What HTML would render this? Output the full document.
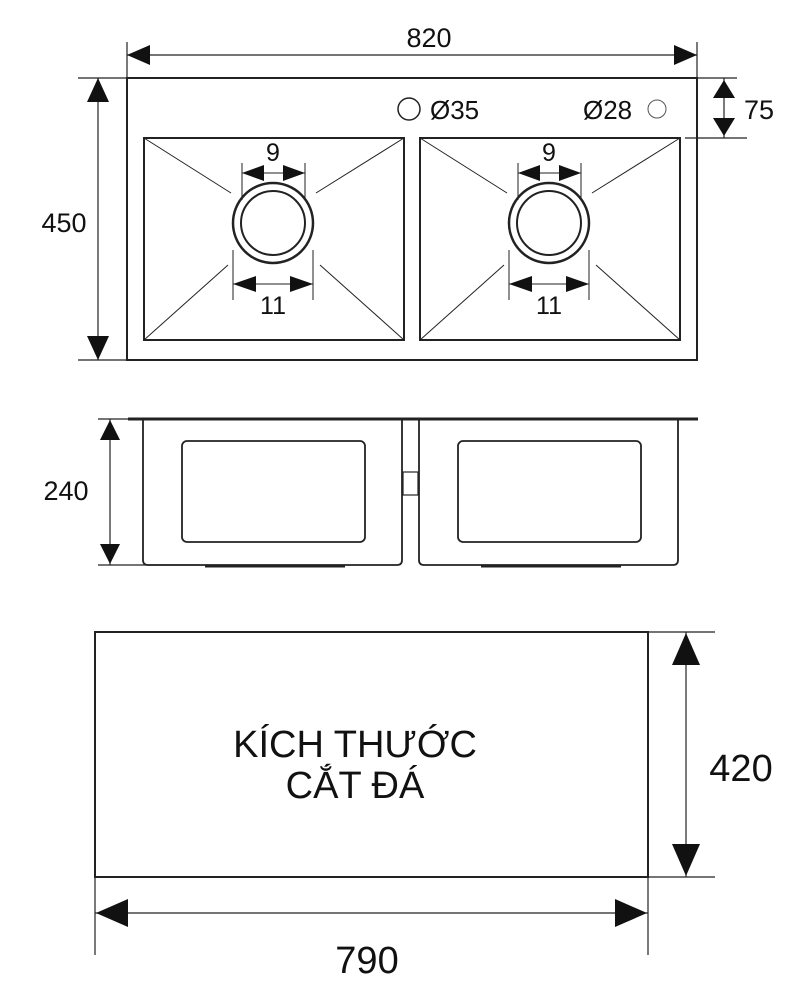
<!DOCTYPE html>
<html><head><meta charset="utf-8"><style>
html,body{margin:0;padding:0;background:#fff;}
svg{display:block;}
text{font-family:"Liberation Sans",sans-serif;fill:#111;}
</style></head><body>
<svg width="800" height="989" viewBox="0 0 800 989" xmlns="http://www.w3.org/2000/svg">
<defs>
<g id="bowl" stroke="#222" fill="none">
  <rect x="144" y="138" width="260" height="202" stroke-width="2"/>
  <line x1="144" y1="138" x2="231" y2="193" stroke-width="1"/>
  <line x1="404" y1="138" x2="316" y2="193" stroke-width="1"/>
  <line x1="144" y1="340" x2="228" y2="265" stroke-width="1"/>
  <line x1="404" y1="340" x2="320" y2="265" stroke-width="1"/>
  <circle cx="273" cy="223" r="40" stroke-width="2.5"/>
  <circle cx="273" cy="223" r="32" stroke-width="2"/>
  <line x1="242" y1="163" x2="242" y2="200" stroke-width="1"/>
  <line x1="305" y1="163" x2="305" y2="200" stroke-width="1"/>
  <line x1="242" y1="173" x2="305" y2="173" stroke-width="1"/>
  <polygon points="242,173 264,165 264,181" fill="#111" stroke="none"/>
  <polygon points="305,173 283,165 283,181" fill="#111" stroke="none"/>
  <line x1="233" y1="250" x2="233" y2="300" stroke-width="1"/>
  <line x1="313" y1="250" x2="313" y2="300" stroke-width="1"/>
  <line x1="233" y1="284" x2="313" y2="284" stroke-width="1"/>
  <polygon points="233,284 256,276 256,292" fill="#111" stroke="none"/>
  <polygon points="313,284 290,276 290,292" fill="#111" stroke="none"/>
</g>
<g id="sbowl" stroke="#222" fill="none" stroke-width="1.8">
  <path d="M143,420 V560 Q143,565 148,565 H397 Q402,565 402,560 V420"/>
  <rect x="182" y="441" width="183" height="101" rx="5"/>
  <line x1="205" y1="566" x2="345" y2="566" stroke-width="3"/>
</g>
</defs>

<!-- top view -->
<rect x="127" y="78" width="570" height="282" fill="none" stroke="#222" stroke-width="2"/>
<use href="#bowl"/>
<use href="#bowl" transform="translate(276,0)"/>
<text x="273" y="161" font-size="25" text-anchor="middle">9</text>
<text x="273" y="314" font-size="25" text-anchor="middle">11</text>
<text x="549" y="161" font-size="25" text-anchor="middle">9</text>
<text x="549" y="314" font-size="25" text-anchor="middle">11</text>
<circle cx="409" cy="109" r="11" fill="none" stroke="#222" stroke-width="1.5"/>
<text x="430" y="119" font-size="26">Ø35</text>
<text x="583" y="119" font-size="26">Ø28</text>
<circle cx="657" cy="109" r="9" fill="none" stroke="#555" stroke-width="1"/>

<g stroke="#222" stroke-width="1.2">
<line x1="127" y1="42" x2="127" y2="78"/>
<line x1="697" y1="42" x2="697" y2="78"/>
<line x1="127" y1="55" x2="697" y2="55"/>
<line x1="78" y1="78" x2="127" y2="78"/>
<line x1="78" y1="360" x2="127" y2="360"/>
<line x1="98" y1="78" x2="98" y2="360"/>
<line x1="697" y1="78" x2="737" y2="78"/>
<line x1="685" y1="138" x2="747" y2="138"/>
<line x1="724" y1="78" x2="724" y2="138"/>
</g>
<polygon points="127,55 150,45 150,65" fill="#111"/>
<polygon points="697,55 674,45 674,65" fill="#111"/>
<text x="429" y="47" font-size="27" text-anchor="middle">820</text>
<polygon points="98,78 87,102 109,102" fill="#111"/>
<polygon points="98,360 87,336 109,336" fill="#111"/>
<text x="64" y="232" font-size="27" text-anchor="middle">450</text>
<polygon points="724,80 713,98 735,98" fill="#111"/>
<polygon points="724,136 713,118 735,118" fill="#111"/>
<text x="759" y="119" font-size="27" text-anchor="middle">75</text>

<!-- side view -->
<line x1="128" y1="419" x2="698" y2="419" stroke="#222" stroke-width="3"/>
<use href="#sbowl"/>
<use href="#sbowl" transform="translate(276,0)"/>
<rect x="403" y="472" width="15" height="23" fill="none" stroke="#222" stroke-width="1.2"/>
<g stroke="#222" stroke-width="1.2">
<line x1="98" y1="419" x2="128" y2="419"/>
<line x1="98" y1="565" x2="200" y2="565"/>
<line x1="110" y1="419" x2="110" y2="565"/>
</g>
<polygon points="110,420 100,440 120,440" fill="#111"/>
<polygon points="110,564 100,544 120,544" fill="#111"/>
<text x="66" y="500" font-size="27" text-anchor="middle">240</text>

<!-- cut size -->
<rect x="95" y="632" width="553" height="245" fill="none" stroke="#222" stroke-width="2"/>
<text x="355" y="757" font-size="38" text-anchor="middle">KÍCH THƯỚC</text>
<text x="355" y="798" font-size="38" text-anchor="middle">CẮT ĐÁ</text>
<g stroke="#222" stroke-width="1.2">
<line x1="648" y1="632" x2="715" y2="632"/>
<line x1="648" y1="877" x2="715" y2="877"/>
<line x1="686" y1="632" x2="686" y2="877"/>
<line x1="95" y1="877" x2="95" y2="955"/>
<line x1="648" y1="877" x2="648" y2="955"/>
<line x1="95" y1="913" x2="648" y2="913"/>
</g>
<polygon points="686,633 672,665 700,665" fill="#111"/>
<polygon points="686,876 672,844 700,844" fill="#111"/>
<text x="741" y="781" font-size="38" text-anchor="middle">420</text>
<polygon points="96,913 128,899 128,927" fill="#111"/>
<polygon points="647,913 615,899 615,927" fill="#111"/>
<text x="367" y="973" font-size="38" text-anchor="middle">790</text>
</svg>
</body></html>
